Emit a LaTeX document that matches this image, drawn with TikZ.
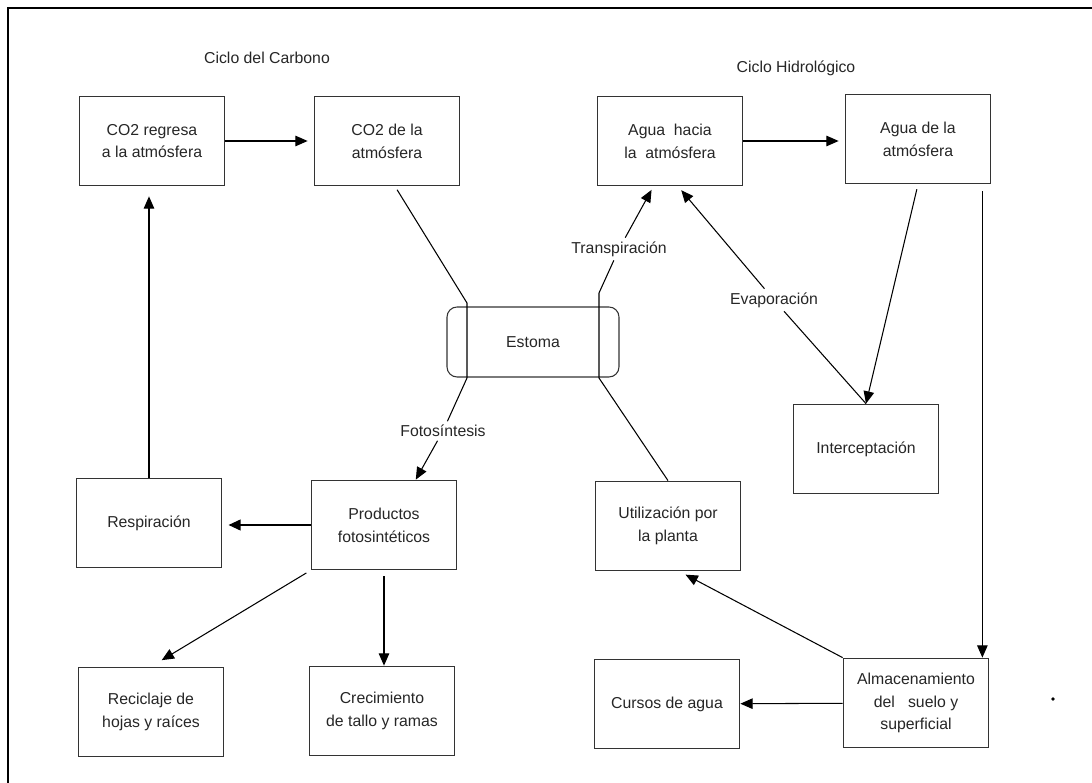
\documentclass[tikz,border=0pt]{standalone}
\usepackage{fontspec}
\setmainfont{Liberation Sans}
\usetikzlibrary{arrows.meta}

\begin{document}
\begin{tikzpicture}[x=0.02cm, y=-0.02cm,
    font=\fontsize{9}{13}\selectfont, text=black!85,
    box/.style={draw=black!80, line width=1pt, minimum width=2.9cm,
        minimum height=1.78cm, align=center},
    flow/.style={-{Triangle[length=7pt,width=6pt]}, line width=0.6pt},
    lbl/.style={inner sep=2pt}]
    \useasboundingbox (0,0) rectangle (1092,783);
    \draw[line width=1.6pt] (8,783) -- (8,8) -- (1092,8);
    \node (carbono) at (267,58) {Ciclo del Carbono};
    \node (hidro) at (796,68) {Ciclo Hidrológico};
    \node[box] (co2reg) at (152,141) {CO2 regresa\\a la atmósfera};
    \node[box] (co2atm) at (387,141) {CO2 de la\\atmósfera};
    \node[box] (aguaup) at (670,141) {Agua~ hacia\\la~ atmósfera};
    \node[box] (aguadn) at (918,139) {Agua de la\\atmósfera};
    \node[box] (resp) at (149,523) {Respiración};
    \node[box] (prod) at (384,525) {Productos\\fotosintéticos};
    \node[box] (recic) at (151,712) {Reciclaje de\\hojas y raíces};
    \node[box] (crec) at (382,711) {Crecimiento\\de tallo y ramas};
    \node[box] (util) at (668,526) {Utilización por\\la planta};
    \node[box] (interc) at (866,449) {Interceptación};
    \node[box] (cursos) at (667,704) {Cursos de agua};
    \node[box] (alm) at (916,703) {Almacenamiento\\del~~ suelo y\\superficial};
    \node[draw=black!80, line width=0.6pt, rounded corners=0.2cm,
        minimum width=3.44cm, minimum height=1.4cm] (estoma) at (533,342) {Estoma};
    \node[lbl] (fot) at (443,431) {Fotosíntesis};
    \node[lbl] (trans) at (619,249) {Transpiración};
    \node[lbl] (evap) at (774,300) {Evaporación};
    \coordinate (fk1) at (467,303);
    \coordinate (fk2) at (467,378);
    \coordinate (tk1) at (599,378);
    \coordinate (tk2) at (599,293);
    \draw[flow, shorten >=0.12cm] (co2reg) -- (co2atm);
    \draw[flow, shorten >=0.12cm] (aguaup.east) -- (aguaup.east -| aguadn.west);
    \draw[flow, shorten >=0.2cm] (resp.north) -- (resp.north |- co2reg.south);
    \draw[flow, line width=1.4pt, shorten >=0.12cm] (prod.west) -- (prod.west -| resp.east);
    \draw[flow, shorten <=0.1cm, shorten >=0.25cm] (prod.south west) -- (recic.north);
    \draw[flow, shorten <=0.12cm] (prod.south) -- (prod.south |- crec.north);
    \draw[line width=0.6pt, shorten <=0.08cm] (co2atm.-80) -- (fk1) -- (fk2) -- (fot);
    \draw[flow] (fot) -- (prod.55);
    \draw[line width=0.6pt] (util.north) -- (tk1) -- (tk2) -- (trans);
    \draw[flow, shorten >=0.08cm] (trans) -- (aguaup.-110);
    \draw[line width=0.6pt] (interc.north) -- (evap);
    \draw[flow, shorten >=0.1cm] (evap) -- (aguaup.-80);
    \draw[flow, shorten <=0.1cm] (aguadn.south) -- (interc.north);
    \draw[flow, shorten <=0.14cm] ([xshift=-0.18cm]aguadn.south east)
        -- ([xshift=-0.18cm]aguadn.south east |- alm.north);
    \draw[flow] (alm) -- (cursos);
    \draw[flow, shorten >=0.14cm] (alm.north west) -- (util.-76);
    \fill (1053,699) circle (1.1pt);
\end{tikzpicture}
\end{document}
